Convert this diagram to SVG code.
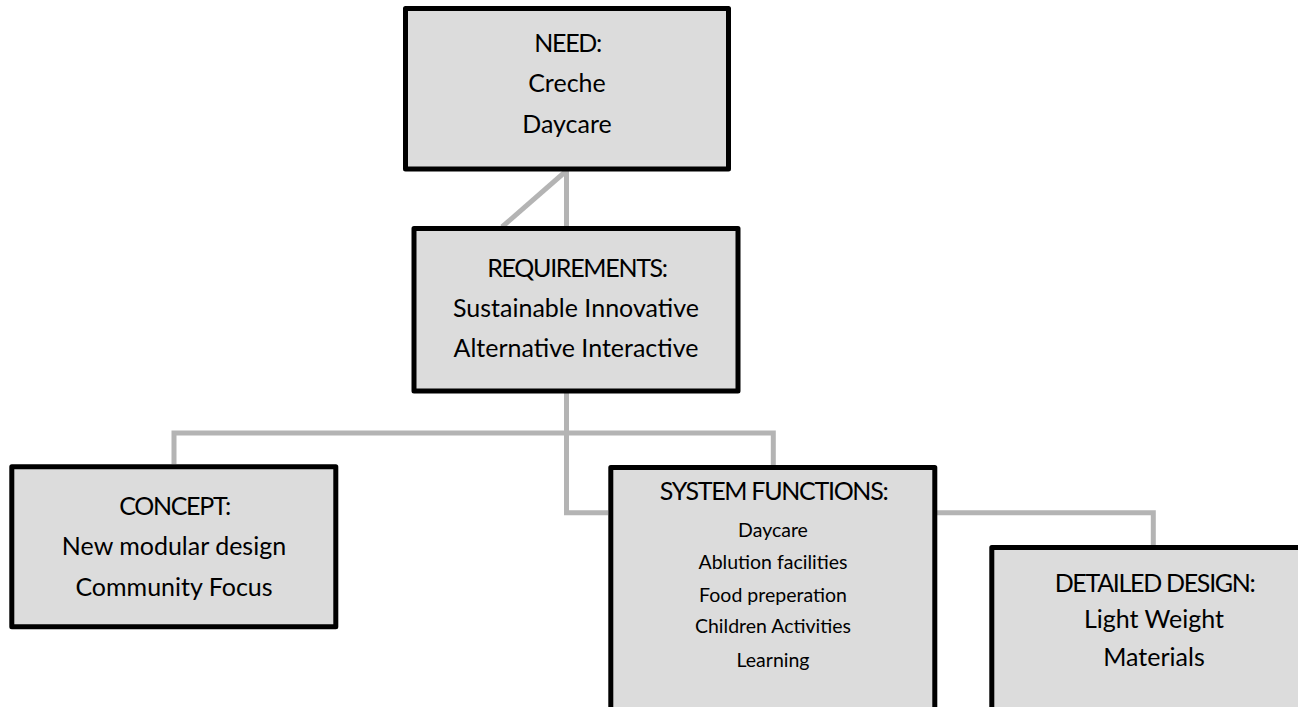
<svg xmlns="http://www.w3.org/2000/svg" width="1298" height="707" viewBox="0 0 1298 707">
<style>
.box{fill:#dcdcdc;stroke:#000;stroke-width:5;stroke-linejoin:round}
.conn{fill:none;stroke:#b4b4b4;stroke-width:5;stroke-linejoin:miter}
text{font-family:Lato,"Open Sans","Liberation Sans",sans-serif;fill:#000;text-anchor:middle}
.big{font-size:25px}
.head{font-size:25px;letter-spacing:-1.3px}
.small{font-size:19.5px}
</style>
<rect width="1298" height="707" fill="#fff"/>
<g id="connectors">
<path class="conn" d="M566.5,171 V226"/>
<path class="conn" d="M565,172 L502,227"/>
<path class="conn" d="M566.5,393 V512.7 H608"/>
<path class="conn" d="M174,464 V433 H773.3 V465"/>
<path class="conn" d="M937,512.7 H1153.3 V545"/>
</g>
<g id="need">
<rect class="box" x="405.5" y="8.5" width="323" height="160.5"/>
<text class="head" x="567.6" y="51.7">NEED:</text>
<text class="big" x="567" y="92">Creche</text>
<text class="big" x="567" y="133">Daycare</text>
</g>
<g id="requirements">
<rect class="box" x="414" y="228.5" width="324" height="162.5"/>
<text class="head" x="577" y="276.7">REQUIREMENTS:</text>
<text class="big" x="576" y="317.3">Sustainable Innovative</text>
<text class="big" x="576" y="357.3">Alternative Interactive</text>
</g>
<g id="concept">
<rect class="box" x="11.8" y="466.8" width="324" height="160"/>
<text class="head" x="174.6" y="515">CONCEPT:</text>
<text class="big" x="174" y="555">New modular design</text>
<text class="big" x="174" y="596">Community Focus</text>
</g>
<g id="system-functions">
<rect class="box" x="610.8" y="467.5" width="324" height="260"/>
<text class="head" x="773.6" y="500">SYSTEM FUNCTIONS:</text>
<text class="small" x="773" y="536.7">Daycare</text>
<text class="small" x="773" y="569">Ablution facilities</text>
<text class="small" x="773" y="601.7">Food preperation</text>
<text class="small" x="773" y="633.3">Children Activities</text>
<text class="small" x="773" y="666.7">Learning</text>
</g>
<g id="detailed-design">
<rect class="box" x="991.8" y="547.5" width="324" height="180"/>
<text class="head" x="1154.6" y="591.7">DETAILED DESIGN:</text>
<text class="big" x="1154" y="628">Light Weight</text>
<text class="big" x="1154" y="665.7">Materials</text>
</g>
</svg>
